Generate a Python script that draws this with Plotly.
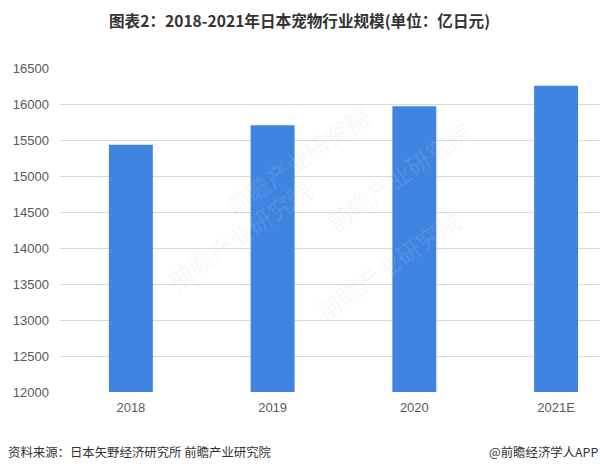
import plotly.graph_objects as go

categories = ["2018", "2019", "2020", "2021E"]
values = [15435, 15705, 15970, 16255]
y_ticks = [12000, 12500, 13000, 13500, 14000, 14500, 15000, 15500, 16000, 16500]

title_text = "图表2：2018-2021年日本宠物行业规模(单位：亿日元)"
source_text = "资料来源：日本矢野经济研究所 前瞻产业研究院"
brand_text = "@前瞻经济学人APP"

FONT = "Noto Sans CJK SC"
PLOT_TOP, PLOT_BOTTOM = 68, 392
PH = PLOT_BOTTOM - PLOT_TOP


def py(pixel_y):
    """convert a pixel row of the page into paper coordinate"""
    return (PLOT_BOTTOM - pixel_y) / PH


def px(pixel_x):
    return (pixel_x - 60) / 540


fig = go.Figure()
fig.add_trace(go.Bar(
    x=categories, y=values,
    marker=dict(color="#3f84e0", line=dict(width=0)),
    width=0.31,
))

annotations = []
# faint watermarks
for (wx, wy) in [(215, 95), (480, 110), (240, 300), (470, 330)]:
    annotations.append(dict(
        x=px(wx), y=py(wy), xref="paper", yref="paper", text="前瞻产业研究院",
        showarrow=False, textangle=-35,
        font=dict(family=FONT, size=24, color="rgba(200,210,225,0.16)"),
    ))

annotations.append(dict(
    x=px(299), y=py(20), xref="paper", yref="paper", xanchor="center", yanchor="middle",
    text="<b>" + title_text + "</b>", showarrow=False,
    font=dict(family=FONT, size=15.6, color="#333333")))
annotations.append(dict(
    x=px(6), y=py(452), xref="paper", yref="paper", xanchor="left", yanchor="middle",
    text=source_text, showarrow=False,
    font=dict(family=FONT, size=12.4, color="#333333")))
annotations.append(dict(
    x=px(600), y=py(452), xref="paper", yref="paper", xanchor="right", yanchor="middle",
    text=brand_text, showarrow=False,
    font=dict(family=FONT, size=12.4, color="#333333")))

fig.update_layout(
    width=600, height=472,
    margin=dict(l=60, r=0, t=PLOT_TOP, b=472 - PLOT_BOTTOM),
    paper_bgcolor="white", plot_bgcolor="white",
    showlegend=False,
    font=dict(family=FONT, color="#595959"),
    xaxis=dict(
        range=[-0.5, 3.31], showgrid=False, showline=False, zeroline=False,
        ticks="", ticklabelstandoff=6,
        tickfont=dict(family="Liberation Sans, Arial", size=13, color="#595959"),
    ),
    yaxis=dict(
        range=[12000, 16500], tickvals=y_ticks, tickformat="d", showgrid=True,
        gridcolor="#d9d9d9", gridwidth=1, zeroline=False, showline=False,
        ticks="", ticklabelstandoff=10,
        tickfont=dict(family="Liberation Sans, Arial", size=13, color="#595959"),
    ),
    annotations=annotations,
)

fig.write_html("out.html", config={"displayModeBar": False},
               post_script="document.body.style.margin='0px';")
